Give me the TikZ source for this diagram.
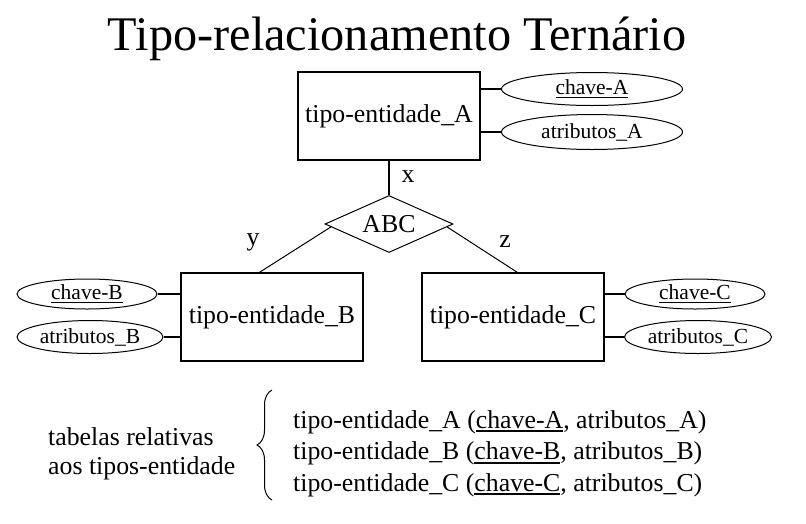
\documentclass[tikz,border=0pt]{standalone}
\usepackage{fontspec}
\setmainfont{Liberation Serif}
\usetikzlibrary{shapes.geometric,decorations.pathreplacing,calc}
\newcommand{\keyul}[1]{\setbox0\hbox{#1}\leavevmode\rlap{\rule[-0.16em]{\wd0}{0.07em}}\box0}
\begin{document}
\begin{tikzpicture}[x=1pt,y=-1pt,
  ent/.style={draw,line width=1.2pt,minimum width=182pt,minimum height=88pt,inner sep=0pt,font=\fontsize{25.8}{30}\selectfont},
  attr/.style={draw,ellipse,line width=1pt,inner sep=0pt,font=\fontsize{21.5}{25}\selectfont},
  conn/.style={line width=2.5pt},
  thinl/.style={line width=1pt},
  lbl/.style={font=\fontsize{25.8}{30}\selectfont,inner sep=0pt},
  txt/.style={font=\fontsize{25.8}{30}\selectfont,inner sep=0pt,anchor=base west}]
\useasboundingbox (0,0) rectangle (806,523);
% title
\node[inner sep=0pt,anchor=base,font=\fontsize{48.3}{55}\selectfont] (title) at (397,50) {Tipo-relacionamento Ternário};
% entities
\node[ent] (A) at (389,116) {tipo-entidade\_A};
\node[ent] (B) at (272,317) {tipo-entidade\_B};
\node[ent] (C) at (513,317) {tipo-entidade\_C};
% attributes
\node[attr,minimum width=181pt,minimum height=33pt] (ka) at (592,89) {\keyul{chave-A}};
\node[attr,minimum width=181pt,minimum height=35pt] (aa) at (592,132) {atributos\_A};
\node[attr,minimum width=140pt,minimum height=30pt] (kb) at (87,294) {\keyul{chave-B}};
\node[attr,minimum width=146pt,minimum height=33pt] (ab) at (90,337) {atributos\_B};
\node[attr,minimum width=140pt,minimum height=30pt] (kc) at (695,294) {\keyul{chave-C}};
\node[attr,minimum width=147pt,minimum height=33pt] (ac) at (698,337) {atributos\_C};
% relationship
\node[draw,diamond,shape aspect=2.2,minimum width=128pt,minimum height=57pt,inner sep=0pt,line width=1pt,font=\fontsize{25.8}{30}\selectfont] (abc) at (389,224) {ABC};
% connectors
\draw[conn] (A.east |- ka.west) -- (ka.west);
\draw[conn] (A.east |- aa.west) -- (aa.west);
\draw[conn] (B.west |- kb.east) -- (kb.east);
\draw[conn] (B.west |- ab.east) -- (ab.east);
\draw[conn] (C.east |- kc.west) -- (kc.west);
\draw[conn] (C.east |- ac.west) -- (ac.west);
\draw[conn] (A.south) -- (abc.north);
\coordinate (bt) at ($(B.north west)+(79,0)$);
\coordinate (ct) at ($(C.north west)+(96,0)$);
\draw[thinl] ($(abc.west)!0.1!(abc.south)$) -- (bt);
\draw[thinl] ($(abc.east)!0.1!(abc.south)$) -- (ct);
% cardinality labels
\node[lbl] (lx) at (408,177) {x};
\node[lbl] (ly) at (253,242) {y};
\node[lbl] (lz) at (505,242) {z};
% bottom
\node[txt] (t1) at (48,445) {tabelas relativas};
\node[txt] (t2) at (48,474) {aos tipos-entidade};
\coordinate (brb) at (272,500);
\coordinate (brt) at (272,390);
\draw[line width=1pt,decorate,decoration={brace,amplitude=15pt,aspect=0.5}] (brb) -- (brt);
\node[txt] (r1) at (293,428) {tipo-entidade\_A (\keyul{chave-A}, atributos\_A)};
\node[txt] (r2) at (293,459.5) {tipo-entidade\_B (\keyul{chave-B}, atributos\_B)};
\node[txt] (r3) at (293,491) {tipo-entidade\_C (\keyul{chave-C}, atributos\_C)};
\end{tikzpicture}
\end{document}
